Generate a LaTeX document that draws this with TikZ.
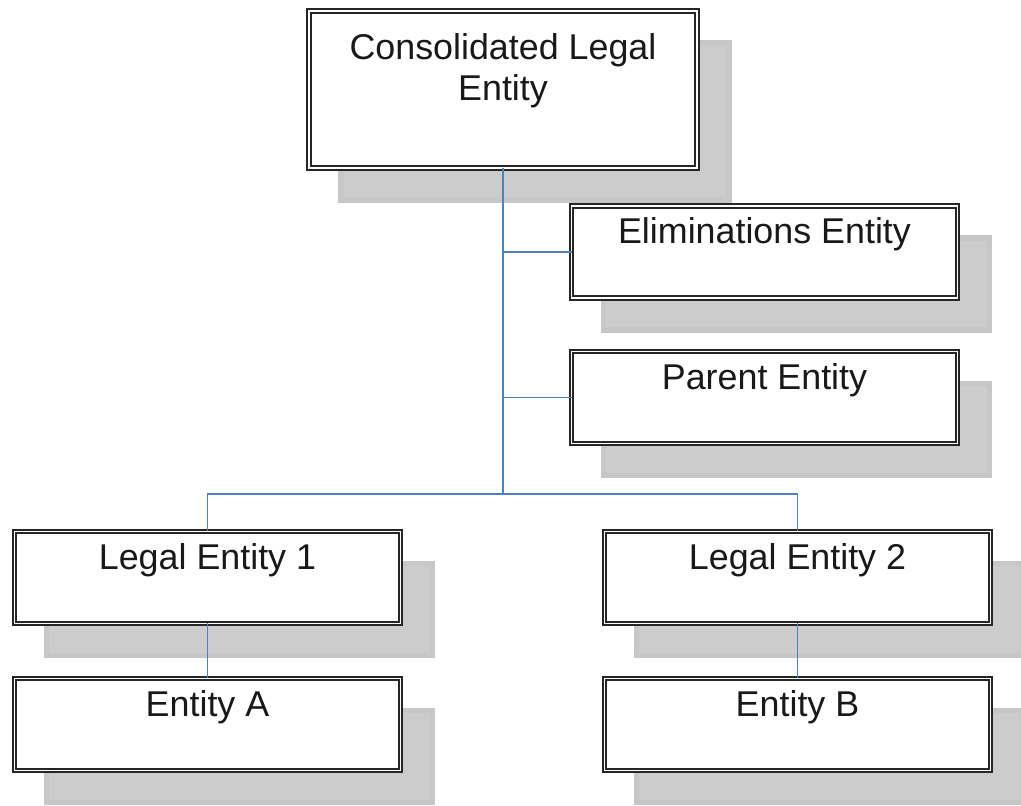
\documentclass[tikz,border=0pt]{standalone}
\usepackage{fontspec}
\setmainfont{Liberation Sans}
\usepackage{tikz}
\usetikzlibrary{shadows, positioning}
\definecolor{linkblue}{RGB}{79,129,189}
\tikzset{
    entbox/.style={rectangle, draw=black!85, line width=0.6pt, double=white, double distance=0.45pt, fill=white, inner sep=0pt, outer sep=0pt, minimum width=3.86cm, minimum height=0.92cm,
        drop shadow={shadow xshift=0.32cm, shadow yshift=-0.32cm, fill=black!20, draw=black!22, line width=1.6pt, opacity=1}},
    topbox/.style={entbox, minimum width=3.88cm, minimum height=1.57cm},
    boxtext/.style={inner sep=0pt, align=center, font=\fontsize{10.2}{11.6}\selectfont, text=black!90},
    conn/.style={draw=linkblue, line width=0.5pt},
}

\begin{document}
\begin{tikzpicture}
\useasboundingbox (0,0) rectangle (10.21,-8.06);

% === ENTITY BOXES ===
\node[topbox] (cle) at (5.03, -0.895) {};
\node[boxtext, below=0.22cm of cle.north] (cletxt) {Consolidated Legal\\Entity};

\node[entbox] (elim) at (7.645, -2.52) {};
\node[boxtext, below=0.11cm of elim.north] (elimtxt) {Eliminations Entity};

\node[entbox] (par) at (7.645, -3.975) {};
\node[boxtext, below=0.11cm of par.north] (partxt) {Parent Entity};

\node[entbox] (leone) at (2.075, -5.775) {};
\node[boxtext, below=0.11cm of leone.north] (leonetxt) {Legal Entity 1};

\node[entbox] (enta) at (2.075, -7.245) {};
\node[boxtext, below=0.11cm of enta.north] (entatxt) {Entity A};

\node[entbox] (letwo) at (7.975, -5.775) {};
\node[boxtext, below=0.11cm of letwo.north] (letwotxt) {Legal Entity 2};

\node[entbox] (entb) at (7.975, -7.245) {};
\node[boxtext, below=0.11cm of entb.north] (entbtxt) {Entity B};

% === CONNECTORS ===
\coordinate (hub) at (5.04, -4.94);
\draw[conn] (cle.south) -- (cle.south |- hub);
\draw[conn] (cle.south |- elim.west) -- (elim.west);
\draw[conn] (cle.south |- par.west) -- (par.west);
\draw[conn] (leone.north) |- (hub) -| (letwo.north);
\draw[conn] (leone.south) -- (enta.north);
\draw[conn] (letwo.south) -- (entb.north);

\end{tikzpicture}
\end{document}
